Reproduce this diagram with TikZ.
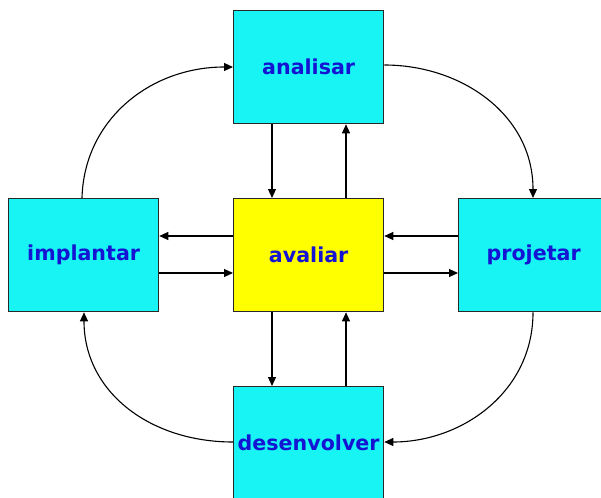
\documentclass[tikz,border=0pt]{standalone}
\usepackage{fontspec}
\setmainfont{DejaVu Sans}
\usetikzlibrary{arrows.meta}
\definecolor{boxcyan}{RGB}{24,244,244}
\definecolor{boxyellow}{RGB}{255,255,0}
\definecolor{labelblue}{RGB}{20,20,210}
\definecolor{edge}{RGB}{40,40,40}
\tikzset{
  stagebox/.style={draw=edge, line width=1.3pt, fill=boxcyan, rectangle,
    minimum width=150pt, minimum height=113pt, inner sep=0pt, anchor=north west,
    font=\fontsize{20.6pt}{24pt}\selectfont\bfseries, text=labelblue},
  centerbox/.style={stagebox, fill=boxyellow},
  flow/.style={line width=1.1pt, draw=black, -{Triangle[length=9pt,width=8pt]}}
}
\begin{document}
\begin{tikzpicture}[x=1pt,y=-1pt]
\useasboundingbox (0,0) rectangle (601,497);
\clip (0,0) rectangle (601,497);
% boxes
\node[stagebox]  (ana) at (233,10)  {analisar};
\node[stagebox]  (imp) at (8,198)   {implantar};
\node[centerbox] (ava) at (233,198) {avaliar};
\node[stagebox]  (pro) at (458,198) {projetar};
\node[stagebox]  (des) at (233,386) {desenvolver};
% straight links with the central box
\draw[flow] (ana.south west) ++(39,0) coordinate (a1) -- (a1 |- ava.north);
\draw[flow] (ava.north west) ++(113,0) coordinate (a2) -- (a2 |- ana.south);
\draw[flow] (ava.north west) ++(0,38) coordinate (a3) -- (a3 -| imp.east);
\draw[flow] (imp.north east) ++(0,75) coordinate (a4) -- (a4 -| ava.west);
\draw[flow] (pro.north west) ++(0,38) coordinate (a5) -- (a5 -| ava.east);
\draw[flow] (ava.north east) ++(0,75) coordinate (a6) -- (a6 -| pro.west);
\draw[flow] (ava.south west) ++(39,0) coordinate (a7) -- (a7 |- des.north);
\draw[flow] (des.north west) ++(113,0) coordinate (a8) -- (a8 |- ava.south);
% outer cycle
\draw[flow] (imp.north west) ++(74,0) coordinate (c1)
  .. controls (84,120) and (150,67) .. (ana.west |- 0,67);
\draw[flow] (ana.east |- 0,65) .. controls (462,65) and (533,115) .. (pro.north west -| 533,0);
\draw[flow] (pro.south west) ++(75,0) coordinate (c3)
  .. controls (533,392) and (462,442) .. (des.east |- 0,442);
\draw[flow] (des.west |- 0,442) .. controls (150,442) and (84,392) .. (imp.south west -| 84,0);
\end{tikzpicture}
\end{document}
